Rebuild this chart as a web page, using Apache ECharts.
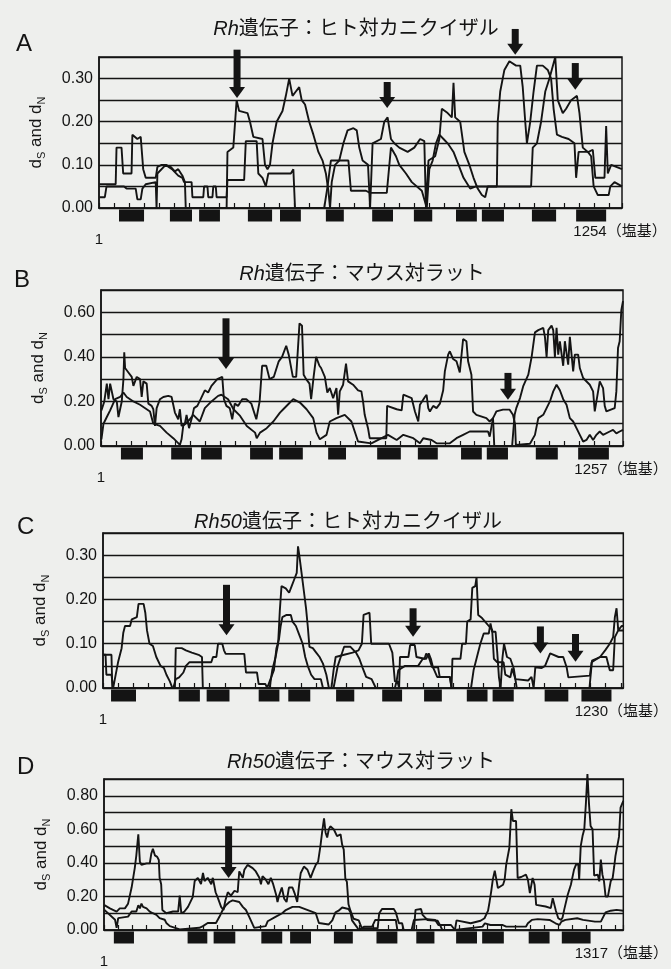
<!DOCTYPE html>
<html><head><meta charset="utf-8">
<script src="https://cdn.jsdelivr.net/npm/echarts/dist/echarts.min.js"></script>
<style>html,body{margin:0;padding:0;background:#eeefed}#c{width:671px;height:969px}</style>
</head><body><div id="c"></div>
<script>
// ---------- data ----------
const panelLetters = ['A', 'B', 'C', 'D'];
const titleGene = ['Rh', 'Rh', 'Rh50', 'Rh50'];
const titleRest = ['遺伝子：ヒト対カニクイザル', '遺伝子：マウス対ラット', '遺伝子：ヒト対カニクイザル', '遺伝子：マウス対ラット'];
const seqLength = [1254, 1257, 1230, 1317];
const unitLabel = '（塩基）';
const yMax = [0.35, 0.7, 0.35, 0.9];
const yStep = [0.05, 0.1, 0.05, 0.1];
const yTickLabelsA = ['0.00', '0.10', '0.20', '0.30'];
const yTickLabelsB = ['0.00', '0.20', '0.40', '0.60'];
const yTickLabelsC = ['0.00', '0.10', '0.20', '0.30'];
const yTickLabelsD = ['0.00', '0.20', '0.40', '0.60', '0.80'];
const xTickStep = [36, 36, 36, 36];

// series: [nucleotide position, value]
const dsA = [[1,0.055],[40,0.055],[42,0.14],[54,0.14],[58,0.08],[78,0.08],[80,0.17],[92,0.16],[100,0.165],[106,0.09],[112,0.07],[136,0.07],[140,0.095],[150,0.10],[160,0.10],[172,0.095],[182,0.085],[190,0.09],[200,0.075],[206,0.06],[208,0.0],[306,0.0],[308,0.13],[322,0.14],[330,0.25],[336,0.225],[356,0.22],[362,0.20],[370,0.165],[392,0.16],[398,0.1],[404,0.09],[410,0.10],[416,0.15],[426,0.2],[440,0.225],[448,0.26],[456,0.30],[464,0.26],[472,0.27],[480,0.28],[486,0.25],[494,0.24],[504,0.2],[514,0.17],[526,0.13],[536,0.11],[544,0.08],[550,0.04],[554,0.0],[558,0.06],[566,0.10],[576,0.11],[586,0.15],[596,0.18],[610,0.185],[618,0.18],[624,0.14],[632,0.11],[645,0.10],[650,0.0],[656,0.15],[676,0.16],[684,0.2],[692,0.21],[700,0.16],[708,0.15],[720,0.14],[740,0.13],[756,0.14],[770,0.16],[780,0.155],[784,0.0],[790,0.11],[806,0.12],[816,0.16],[822,0.23],[836,0.22],[846,0.21],[850,0.29],[854,0.21],[866,0.20],[876,0.13],[888,0.10],[898,0.07],[908,0.045],[918,0.03],[926,0.025],[932,0.05],[954,0.05],[956,0.2],[962,0.27],[972,0.32],[984,0.34],[1000,0.33],[1010,0.33],[1016,0.28],[1022,0.2],[1026,0.15],[1034,0.2],[1042,0.27],[1050,0.33],[1064,0.33],[1076,0.32],[1084,0.3],[1090,0.23],[1098,0.17],[1110,0.165],[1126,0.16],[1140,0.15],[1144,0.07],[1150,0.13],[1174,0.13],[1184,0.135],[1190,0.07],[1212,0.07],[1216,0.19],[1220,0.08],[1228,0.10],[1254,0.09]];
const dnA = [[1,0.025],[14,0.025],[18,0.05],[60,0.05],[66,0.045],[88,0.045],[92,0.02],[100,0.02],[104,0.045],[112,0.055],[136,0.06],[138,0.0],[140,0.08],[160,0.10],[175,0.09],[190,0.075],[200,0.07],[204,0.06],[222,0.06],[224,0.025],[250,0.025],[252,0.05],[260,0.05],[262,0.025],[272,0.025],[274,0.05],[280,0.05],[282,0.025],[306,0.025],[308,0.065],[348,0.065],[352,0.155],[378,0.155],[382,0.08],[392,0.07],[400,0.05],[406,0.08],[420,0.08],[460,0.08],[466,0.09],[470,0.0],[540,0.0],[548,0.05],[556,0.11],[598,0.11],[604,0.04],[640,0.04],[650,0.035],[690,0.035],[700,0.14],[712,0.12],[720,0.1],[736,0.08],[750,0.06],[774,0.04],[786,0.0],[792,0.09],[800,0.11],[808,0.15],[816,0.17],[826,0.16],[836,0.15],[850,0.13],[862,0.1],[874,0.07],[890,0.045],[904,0.05],[1036,0.05],[1040,0.14],[1050,0.15],[1060,0.2],[1070,0.27],[1080,0.3],[1094,0.35],[1100,0.25],[1112,0.22],[1120,0.23],[1132,0.25],[1146,0.26],[1152,0.22],[1160,0.14],[1172,0.13],[1180,0.12],[1186,0.05],[1196,0.03],[1222,0.03],[1226,0.05],[1236,0.06],[1254,0.05]];

const dsB = [[1,0.16],[8,0.2],[14,0.28],[18,0.21],[22,0.28],[30,0.21],[38,0.2],[42,0.13],[50,0.2],[54,0.3],[56,0.42],[58,0.35],[66,0.33],[74,0.31],[78,0.27],[86,0.31],[94,0.3],[98,0.22],[102,0.29],[110,0.28],[114,0.19],[122,0.18],[126,0.165],[130,0.09],[134,0.17],[142,0.21],[150,0.22],[162,0.225],[170,0.22],[178,0.15],[186,0.12],[190,0.165],[194,0.09],[202,0.10],[206,0.14],[212,0.08],[220,0.135],[224,0.17],[232,0.18],[240,0.21],[250,0.25],[258,0.24],[266,0.27],[280,0.3],[292,0.31],[296,0.21],[302,0.18],[310,0.17],[316,0.12],[322,0.19],[330,0.18],[340,0.21],[350,0.21],[362,0.19],[374,0.12],[382,0.2],[388,0.36],[398,0.36],[406,0.3],[416,0.31],[428,0.38],[436,0.40],[446,0.45],[452,0.41],[462,0.31],[470,0.31],[478,0.55],[484,0.54],[488,0.32],[494,0.30],[502,0.28],[506,0.21],[512,0.31],[518,0.40],[526,0.36],[530,0.35],[539,0.31],[545,0.24],[551,0.26],[559,0.215],[567,0.26],[571,0.14],[575,0.245],[583,0.275],[590,0.37],[595,0.29],[607,0.275],[619,0.25],[627,0.245],[631,0.2],[635,0.14],[643,0.08],[647,0.035],[687,0.035],[689,0.18],[712,0.165],[724,0.16],[728,0.23],[748,0.215],[756,0.155],[764,0.11],[768,0.185],[780,0.22],[784,0.23],[788,0.17],[792,0.155],[800,0.18],[808,0.17],[816,0.19],[824,0.25],[828,0.335],[836,0.41],[840,0.425],[848,0.39],[856,0.38],[864,0.33],[872,0.48],[880,0.47],[884,0.38],[892,0.32],[896,0.155],[904,0.14],[928,0.125],[936,0.11],[944,0.125],[947,0.0],[990,0.0],[996,0.14],[1000,0.17],[1009,0.215],[1017,0.27],[1029,0.32],[1037,0.4],[1045,0.51],[1053,0.52],[1065,0.53],[1069,0.49],[1073,0.4],[1077,0.52],[1085,0.54],[1089,0.52],[1093,0.4],[1097,0.53],[1101,0.41],[1105,0.47],[1113,0.36],[1117,0.47],[1125,0.365],[1129,0.49],[1133,0.49],[1137,0.335],[1141,0.41],[1149,0.41],[1153,0.35],[1161,0.305],[1177,0.275],[1185,0.245],[1189,0.155],[1193,0.2],[1201,0.29],[1209,0.26],[1213,0.18],[1217,0.155],[1237,0.17],[1241,0.245],[1245,0.44],[1249,0.47],[1253,0.61],[1257,0.65]];
const dnB = [[1,0.03],[6,0.1],[14,0.13],[22,0.16],[34,0.21],[46,0.22],[54,0.24],[62,0.22],[78,0.2],[94,0.185],[110,0.165],[118,0.155],[126,0.1],[142,0.09],[158,0.06],[174,0.035],[190,0.005],[194,0.03],[198,0.09],[214,0.12],[222,0.14],[238,0.11],[250,0.17],[266,0.2],[282,0.225],[290,0.23],[306,0.21],[319,0.165],[335,0.135],[351,0.09],[371,0.06],[375,0.035],[383,0.06],[399,0.08],[415,0.11],[431,0.15],[439,0.165],[455,0.195],[463,0.21],[479,0.195],[495,0.165],[511,0.125],[519,0.06],[527,0.03],[543,0.05],[551,0.11],[567,0.125],[587,0.14],[603,0.11],[611,0.065],[619,0.02],[651,0.012],[691,0.05],[712,0.027],[728,0.05],[752,0.035],[768,0.012],[776,0.035],[796,0.027],[808,0.012],[840,0.012],[856,0.035],[872,0.05],[888,0.065],[932,0.065],[936,0.042],[944,0.125],[948,0.14],[952,0.155],[968,0.163],[984,0.163],[992,0.14],[997,0.1],[999,0.005],[1033,0.01],[1045,0.05],[1053,0.125],[1065,0.14],[1073,0.17],[1081,0.2],[1089,0.245],[1097,0.275],[1105,0.25],[1113,0.21],[1121,0.185],[1129,0.125],[1137,0.11],[1145,0.08],[1153,0.05],[1161,0.02],[1169,0.027],[1177,0.05],[1185,0.027],[1193,0.05],[1201,0.065],[1209,0.05],[1225,0.065],[1233,0.072],[1241,0.057],[1249,0.065],[1257,0.072]];

const dsC = [[1,0.075],[6,0.075],[8,0.03],[20,0.03],[24,0.0],[28,0.02],[36,0.06],[44,0.09],[48,0.125],[52,0.14],[64,0.14],[68,0.155],[80,0.16],[84,0.19],[96,0.19],[100,0.17],[104,0.13],[110,0.1],[118,0.095],[126,0.07],[136,0.05],[144,0.045],[150,0.03],[158,0.015],[164,0.0],[170,0.0],[172,0.09],[186,0.09],[196,0.085],[210,0.08],[226,0.075],[234,0.07],[236,0.0],[394,0.0],[400,0.04],[404,0.04],[408,0.07],[414,0.1],[418,0.175],[422,0.23],[432,0.225],[440,0.215],[446,0.23],[452,0.245],[458,0.26],[461,0.32],[464,0.30],[468,0.27],[472,0.24],[476,0.21],[480,0.18],[484,0.14],[488,0.093],[496,0.09],[504,0.08],[512,0.07],[520,0.055],[528,0.03],[534,0.0],[545,0.0],[555,0.05],[562,0.07],[570,0.093],[585,0.093],[598,0.08],[606,0.066],[614,0.045],[622,0.025],[635,0.02],[645,0.0],[690,0.0],[694,0.015],[698,0.04],[714,0.05],[745,0.05],[756,0.066],[764,0.066],[770,0.078],[775,0.066],[780,0.047],[790,0.025],[820,0.025],[824,0.0],[870,0.0],[876,0.04],[884,0.07],[892,0.1],[900,0.123],[912,0.123],[916,0.146],[920,0.127],[928,0.127],[932,0.08],[936,0.024],[940,0.0],[944,0.065],[948,0.1],[955,0.07],[963,0.066],[971,0.044],[978,0.0],[1150,0.0],[1156,0.062],[1175,0.07],[1190,0.07],[1198,0.04],[1206,0.04],[1210,0.115],[1218,0.13],[1230,0.13]];
const dnC = [[1,0.075],[20,0.075],[22,0.0],[166,0.0],[172,0.02],[180,0.024],[190,0.035],[196,0.05],[204,0.058],[256,0.058],[260,0.07],[268,0.07],[272,0.1],[282,0.1],[286,0.085],[290,0.077],[334,0.077],[338,0.035],[364,0.035],[368,0.009],[384,0.009],[388,0.0],[396,0.02],[404,0.04],[410,0.09],[416,0.11],[420,0.14],[424,0.16],[434,0.165],[444,0.165],[448,0.15],[456,0.14],[464,0.12],[472,0.1],[478,0.07],[484,0.05],[492,0.03],[500,0.02],[515,0.02],[520,0.0],[540,0.0],[545,0.04],[550,0.07],[570,0.075],[590,0.08],[604,0.085],[612,0.1],[616,0.165],[630,0.17],[634,0.1],[676,0.1],[684,0.08],[690,0.015],[696,0.015],[700,0.0],[702,0.07],[722,0.07],[726,0.097],[737,0.097],[741,0.07],[760,0.066],[764,0.078],[770,0.07],[778,0.047],[792,0.047],[796,0.025],[820,0.025],[824,0.0],[826,0.066],[845,0.066],[849,0.1],[858,0.1],[861,0.15],[869,0.155],[873,0.226],[880,0.23],[883,0.25],[887,0.165],[896,0.158],[912,0.14],[920,0.131],[924,0.066],[932,0.058],[947,0.058],[951,0.03],[963,0.024],[967,0.044],[975,0.02],[1005,0.017],[1013,0.025],[1018,0.0],[1022,0.047],[1037,0.045],[1045,0.05],[1057,0.078],[1077,0.07],[1088,0.07],[1096,0.047],[1100,0.024],[1151,0.028],[1155,0.058],[1175,0.07],[1187,0.085],[1198,0.1],[1206,0.115],[1210,0.16],[1214,0.18],[1218,0.13],[1226,0.14],[1230,0.14]];

const dsD = [[1,0.148],[15,0.129],[24,0.119],[32,0.11],[40,0.129],[53,0.129],[61,0.157],[70,0.253],[74,0.311],[78,0.369],[82,0.445],[87,0.57],[91,0.407],[95,0.388],[108,0.397],[116,0.397],[120,0.455],[124,0.484],[129,0.445],[135,0.436],[139,0.417],[141,0.311],[145,0.273],[148,0.119],[158,0.1],[175,0.11],[188,0.11],[192,0.205],[196,0.1],[204,0.11],[213,0.138],[221,0.177],[225,0.196],[230,0.292],[238,0.311],[246,0.273],[251,0.34],[255,0.292],[263,0.311],[272,0.273],[276,0.311],[283,0.225],[288,0.196],[297,0.138],[303,0.119],[308,0.177],[314,0.225],[322,0.205],[331,0.234],[339,0.225],[343,0.349],[352,0.311],[356,0.359],[364,0.388],[377,0.369],[385,0.349],[394,0.311],[398,0.273],[402,0.321],[410,0.301],[417,0.273],[423,0.311],[429,0.273],[436,0.215],[440,0.167],[444,0.205],[451,0.253],[457,0.186],[463,0.167],[469,0.253],[478,0.253],[484,0.215],[490,0.167],[495,0.273],[499,0.34],[507,0.378],[516,0.359],[524,0.311],[530,0.349],[537,0.388],[543,0.407],[549,0.503],[553,0.58],[558,0.666],[562,0.58],[566,0.551],[570,0.599],[574,0.618],[583,0.599],[591,0.56],[600,0.57],[604,0.508],[608,0.479],[612,0.307],[616,0.287],[620,0.153],[625,0.115],[633,0.067],[646,0.057],[654,0.01],[694,0.01],[698,0.1],[705,0.125],[735,0.125],[740,0.105],[748,0.04],[756,0.04],[760,0.0],[786,0.0],[790,0.12],[804,0.125],[808,0.09],[820,0.06],[846,0.055],[852,0.03],[858,0.0],[890,0.0],[894,0.057],[930,0.04],[955,0.055],[965,0.07],[974,0.115],[978,0.17],[982,0.23],[986,0.3],[991,0.354],[999,0.25],[1012,0.27],[1016,0.3],[1020,0.39],[1028,0.49],[1033,0.72],[1037,0.65],[1045,0.65],[1049,0.31],[1058,0.316],[1070,0.33],[1075,0.3],[1080,0.22],[1087,0.31],[1092,0.27],[1096,0.15],[1120,0.14],[1133,0.13],[1138,0.19],[1142,0.18],[1146,0.115],[1152,0.07],[1159,0.06],[1163,0.075],[1167,0.12],[1176,0.21],[1184,0.27],[1192,0.36],[1197,0.39],[1203,0.39],[1205,0.3],[1209,0.5],[1214,0.565],[1218,0.6],[1222,0.75],[1226,0.93],[1230,0.75],[1234,0.62],[1239,0.6],[1243,0.325],[1252,0.33],[1256,0.29],[1260,0.42],[1264,0.33],[1268,0.29],[1272,0.2],[1278,0.2],[1285,0.29],[1290,0.31],[1294,0.38],[1297,0.44],[1302,0.45],[1306,0.555],[1310,0.73],[1317,0.77]];
const dnD = [[1,0.12],[28,0.061],[32,0.013],[36,0.071],[40,0.08],[61,0.08],[70,0.11],[82,0.11],[87,0.148],[91,0.129],[95,0.157],[99,0.138],[108,0.129],[116,0.11],[124,0.1],[133,0.09],[141,0.071],[154,0.061],[158,0.042],[167,0.023],[192,0.004],[242,0.013],[251,0.023],[263,0.042],[284,0.042],[293,0.08],[301,0.119],[309,0.148],[318,0.167],[326,0.177],[343,0.167],[352,0.138],[360,0.119],[368,0.08],[377,0.033],[381,0.013],[410,0.023],[415,0.052],[419,0.061],[436,0.08],[452,0.1],[461,0.119],[478,0.138],[495,0.138],[537,0.1],[545,0.042],[570,0.033],[579,0.057],[587,0.105],[595,0.115],[604,0.134],[620,0.125],[625,0.105],[629,0.057],[641,0.019],[646,0.0],[660,0.02],[680,0.02],[688,0.06],[740,0.06],[744,0.0],[780,0.0],[786,0.06],[820,0.065],[840,0.06],[848,0.03],[880,0.03],[890,0.0],[960,0.02],[966,0.04],[980,0.03],[1010,0.03],[1020,0.02],[1070,0.02],[1075,0.04],[1085,0.06],[1100,0.065],[1130,0.06],[1145,0.04],[1155,0.03],[1160,0.05],[1170,0.06],[1200,0.07],[1215,0.06],[1245,0.05],[1260,0.05],[1272,0.105],[1285,0.115],[1300,0.12],[1317,0.115]];

// exon boxes [start, end] in nucleotides
const exonsA = [[48,108],[170,223],[240,290],[357,415],[434,484],[544,587],[655,705],[755,799],[856,906],[918,971],[1038,1096],[1144,1216]];
const exonsB = [[48,101],[169,219],[241,291],[359,414],[429,486],[547,590],[665,722],[763,811],[867,917],[929,980],[1047,1100],[1149,1223]];
const exonsC = [[19,78],[179,229],[245,299],[368,417],[438,490],[551,594],[660,707],[759,801],[860,909],[921,971],[1044,1100],[1131,1202]];
const exonsD = [[25,76],[212,262],[278,333],[399,452],[472,525],[583,631],[691,744],[792,838],[893,946],[959,1014],[1077,1130],[1161,1234]];

// arrows [position, tip value, tail value]
const arrowsA = [[331,0.255,0.367],[691,0.232,0.292],[998,0.355,0.415],[1142,0.274,0.336]];
const arrowsB = [[301,0.345,0.573],[980,0.208,0.328]];
const arrowsC = [[292,0.119,0.233],[733,0.116,0.18],[1034,0.078,0.139],[1117,0.059,0.122]];
const arrowsD = [[316,0.31,0.618]];

// ---------- assembly ----------
const dsAll = [dsA, dsB, dsC, dsD];
const dnAll = [dnA, dnB, dnC, dnD];
const exonsAll = [exonsA, exonsB, exonsC, exonsD];
const arrowsAll = [arrowsA, arrowsB, arrowsC, arrowsD];
const yLabelsAll = [yTickLabelsA, yTickLabelsB, yTickLabelsC, yTickLabelsD];

const layout = [
  {top: 57, h: 151, left: 99, right: 49, letterTop: 27, letterLeft: 11, titleTop: 14, titleX: 351},
  {top: 290, h: 156, left: 101, right: 48, letterTop: 263, letterLeft: 9, titleTop: 259, titleX: 357},
  {top: 533, h: 155, left: 103, right: 46, letterTop: 510, letterLeft: 12, titleTop: 507, titleX: 343},
  {top: 779, h: 156, left: 104, right: 45, letterTop: 750, letterLeft: 12, titleTop: 747, titleX: 356}
];

const INK = '#141414';
const LATIN = '"Liberation Sans", Arial, sans-serif';
const MIXED = '"Liberation Sans", "Noto Sans CJK JP", sans-serif';

const grids = [], xAxes = [], yAxes = [], series = [], titles = [];
layout.forEach((L, i) => {
  grids.push({left: L.left, right: L.right, top: L.top, height: L.h, show: true,
    borderColor: INK, borderWidth: 1.5, backgroundColor: 'transparent', containLabel: false});
  const N = seqLength[i];
  xAxes.push({type: 'value', gridIndex: i, min: 0, max: N, interval: xTickStep[i],
    splitLine: {show: false},
    axisLine: {show: true, lineStyle: {color: INK, width: 1.5}},
    axisTick: {show: true, inside: true, length: 5, lineStyle: {color: INK, width: 1.2}},
    axisLabel: {show: true, margin: 16, color: INK, fontSize: 15, fontFamily: MIXED,
      showMinLabel: true, showMaxLabel: true,
      formatter: (v) => v === 0 ? '{lo|1}' : (v === N ? '{hi|' + N + unitLabel + '}' : ''),
      rich: {lo: {fontSize: 15, fontFamily: LATIN, color: INK, padding: [8, 0, 0, 0]},
             hi: {fontSize: 15, fontFamily: MIXED, color: INK, padding: [0, 4, 0, 0]}}}
  });
  const labs = yLabelsAll[i];
  yAxes.push({type: 'value', gridIndex: i, min: 0, max: yMax[i], interval: yStep[i],
    splitLine: {show: true, lineStyle: {color: INK, width: 1.3}},
    axisLine: {show: true, lineStyle: {color: INK, width: 1.5}},
    axisTick: {show: false},
    axisLabel: {margin: 6, color: INK, fontSize: 16, fontFamily: LATIN,
      formatter: (v) => labs.includes(v.toFixed(2)) ? v.toFixed(2) : ''},
    name: '{m|d}{s|S}{m| and d}{s|N}', nameLocation: 'middle', nameRotate: 90, nameGap: 52,
    nameTextStyle: {color: INK, fontFamily: LATIN,
      rich: {m: {fontSize: 17, lineHeight: 22, fontFamily: LATIN, color: INK},
             s: {fontSize: 11, lineHeight: 11, verticalAlign: 'bottom', fontFamily: LATIN, color: INK}}}
  });
  series.push({type: 'line', xAxisIndex: i, yAxisIndex: i, data: dsAll[i], symbol: 'none',
    lineStyle: {color: INK, width: 1.9}, clip: false, z: 3, animation: false});
  series.push({type: 'line', xAxisIndex: i, yAxisIndex: i, data: dnAll[i], symbol: 'none',
    lineStyle: {color: INK, width: 1.9}, clip: false, z: 3, animation: false});
  series.push({type: 'custom', xAxisIndex: i, yAxisIndex: i, data: exonsAll[i], clip: false,
    dimensions: ['s', 'e'], encode: {x: [0, 1]}, z: 4, animation: false,
    renderItem: (params, api) => {
      const a = api.coord([api.value(0), 0]);
      const b = api.coord([api.value(1), 0]);
      return {type: 'rect', shape: {x: a[0], y: a[1] + 1.5, width: b[0] - a[0], height: 12},
        style: {fill: INK}};
    }});
  series.push({type: 'custom', xAxisIndex: i, yAxisIndex: i, data: arrowsAll[i], clip: false,
    dimensions: ['x', 'tip', 'tail'], encode: {x: 0, y: [1, 2]}, z: 5, animation: false,
    renderItem: (params, api) => {
      const tip = api.coord([api.value(0), api.value(1)]);
      const tail = api.coord([api.value(0), api.value(2)]);
      const headH = 11, headW = 8, shaftW = 3.5;
      return {type: 'group', children: [
        {type: 'rect', shape: {x: tip[0] - shaftW, y: tail[1], width: shaftW * 2, height: tip[1] - headH - tail[1] + 1},
          style: {fill: INK}},
        {type: 'polygon', shape: {points: [[tip[0] - headW, tip[1] - headH], [tip[0] + headW, tip[1] - headH], [tip[0], tip[1]]]},
          style: {fill: INK}}
      ]};
    }});
  titles.push({text: panelLetters[i], left: L.letterLeft, top: L.letterTop,
    textStyle: {fontSize: 24, fontWeight: 'normal', color: INK, fontFamily: LATIN}});
  titles.push({text: '{g|' + titleGene[i] + '}{r|' + titleRest[i] + '}', left: L.titleX, top: L.titleTop, textAlign: 'center',
    textStyle: {fontWeight: 'normal', rich: {
      g: {fontSize: 20, fontStyle: 'italic', fontWeight: 'normal', fontFamily: LATIN, color: INK},
      r: {fontSize: 20, fontWeight: 'normal', fontFamily: MIXED, color: INK}}}});
});

const chart = echarts.init(document.getElementById('c'), null, {renderer: 'canvas'});
chart.setOption({
  backgroundColor: '#eeefed',
  animation: false,
  title: titles,
  grid: grids,
  xAxis: xAxes,
  yAxis: yAxes,
  series: series
});
</script></body></html>
